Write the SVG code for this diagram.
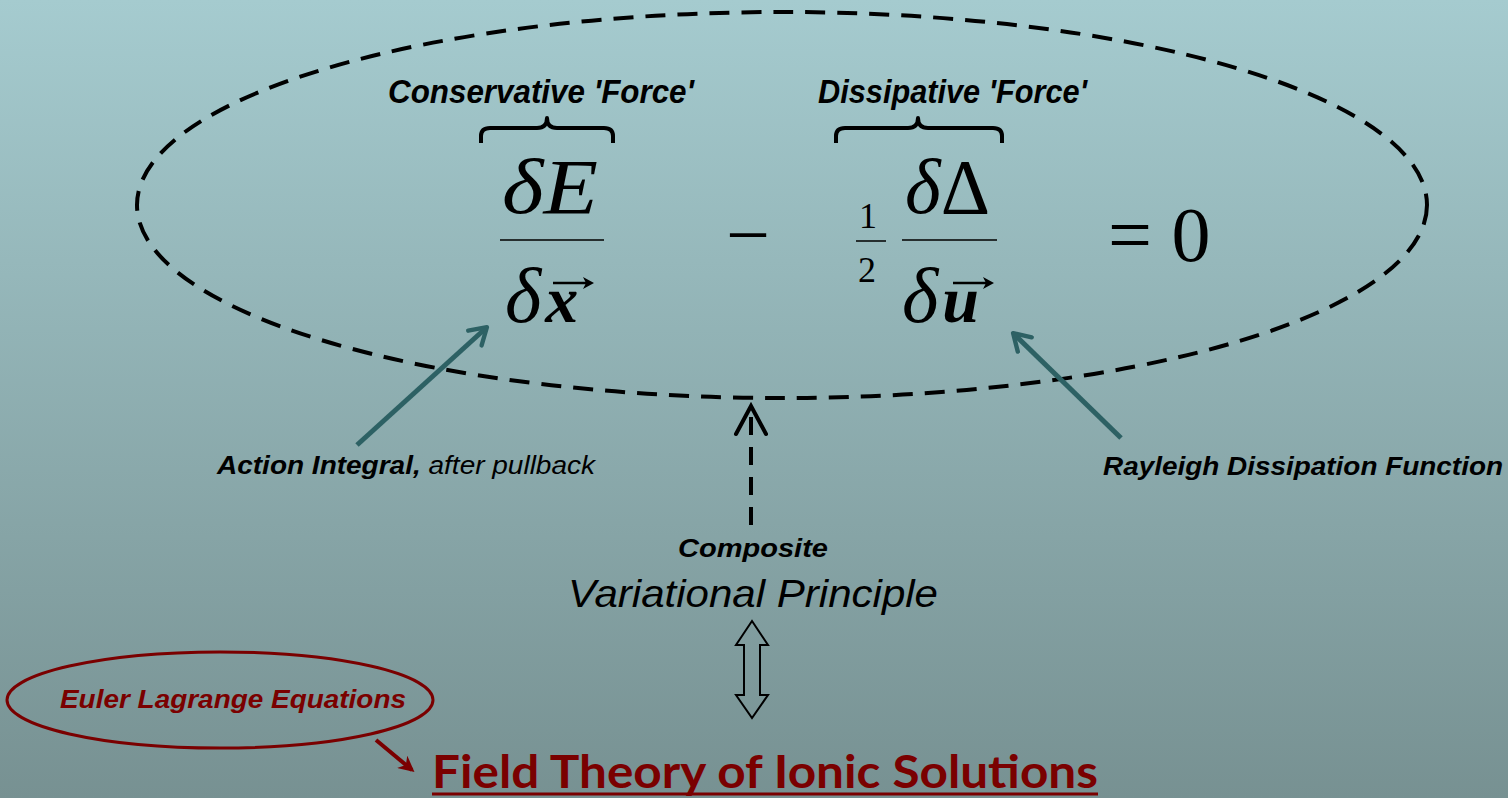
<svg xmlns="http://www.w3.org/2000/svg" width="1508" height="798" viewBox="0 0 1508 798">
<defs>
<linearGradient id="bg" x1="0" y1="0" x2="0" y2="1">
<stop offset="0" stop-color="#a5cbcf"/>
<stop offset="1" stop-color="#779192"/>
</linearGradient>
<marker id="teal" viewBox="0 0 20 20" refX="14" refY="10" markerWidth="5" markerHeight="5" orient="auto" markerUnits="strokeWidth">
<path d="M2,2 L15,10 L2,18" fill="none" stroke="#2d6164" stroke-width="3.5" stroke-linecap="round" stroke-linejoin="round"/>
</marker>
<marker id="red" viewBox="0 0 10 10" refX="8" refY="5" markerWidth="4" markerHeight="4" orient="auto" markerUnits="strokeWidth">
<path d="M0,0 L10,5 L0,10 L3,5 Z" fill="#7a0000"/>
</marker>
<style>
.cond{font-family:"Liberation Sans",Arial,sans-serif;font-weight:bold;font-style:italic;font-size:34px;fill:#000}
.math{font-family:"Liberation Serif","Times New Roman",serif;font-style:italic;font-size:78px;fill:#000}
.mathr{font-family:"Liberation Serif","Times New Roman",serif;font-size:78px;fill:#000}
.bvec{font-weight:bold;font-size:66px}
.lab{font-family:"Liberation Sans",Arial,sans-serif;font-style:italic;font-size:25px;fill:#000}
.brace{fill:none;stroke:#000;stroke-width:4;stroke-linejoin:round}
.bar{stroke:#000;stroke-width:1.5}
.vec{stroke:#000;stroke-width:2.5}
</style>
</defs>
<rect x="0" y="0" width="1508" height="798" fill="url(#bg)"/>

<g id="equation-ellipse">
<ellipse cx="782" cy="205" rx="645" ry="193" fill="none" stroke="#000" stroke-width="4" stroke-dasharray="20 12"/>
</g>

<g id="conservative">
<text class="cond" x="388" y="103" textLength="306" lengthAdjust="spacingAndGlyphs">Conservative 'Force'</text>
<path class="brace" d="M481,143 L481,136 Q481,128 490,128 L537,128 Q547,128 547,118 Q547,128 557,128 L604,128 Q613,128 613,136 L613,143"/>
<text class="math" x="502" y="213" textLength="96" lengthAdjust="spacingAndGlyphs">δE</text>
<line class="bar" x1="500" y1="240" x2="604" y2="240"/>
<text class="math" x="505" y="322">δ<tspan class="bvec" dx="4">x</tspan></text>
<line class="vec" x1="553" y1="283" x2="589" y2="283"/>
<path d="M594,283 L583,277 L586,283 L583,289 Z" fill="#000"/>
</g>

<g id="minus">
<text class="mathr" x="726" y="261">−</text>
</g>

<g id="dissipative">
<text class="cond" x="818" y="103" textLength="269" lengthAdjust="spacingAndGlyphs">Dissipative 'Force'</text>
<path class="brace" d="M836,143 L836,136 Q836,128 845,128 L908,128 Q918,128 918,118 Q918,128 928,128 L993,128 Q1002,128 1002,136 L1002,143"/>
<text class="mathr" x="859" y="228" style="font-size:36px">1</text>
<line class="bar" x1="856" y1="241" x2="886" y2="241"/>
<text class="mathr" x="858" y="282" style="font-size:36px">2</text>
<text class="math" x="905" y="213" textLength="85" lengthAdjust="spacingAndGlyphs">δ<tspan style="font-style:normal">Δ</tspan></text>
<line class="bar" x1="902" y1="240" x2="997" y2="240"/>
<text class="math" x="902" y="322">δ<tspan class="bvec" dx="4">u</tspan></text>
<line class="vec" x1="953" y1="283" x2="989" y2="283"/>
<path d="M994,283 L983,277 L986,283 L983,289 Z" fill="#000"/>
</g>

<g id="equals-zero">
<text class="mathr" x="1108" y="261">= 0</text>
</g>

<g id="action-label">
<text class="lab" x="217" y="474" textLength="378" lengthAdjust="spacingAndGlyphs"><tspan font-weight="bold">Action Integral,</tspan> after pullback</text>
</g>

<g id="rayleigh-label">
<text class="lab" x="1103" y="475" font-weight="bold" textLength="400" lengthAdjust="spacingAndGlyphs">Rayleigh Dissipation Function</text>
</g>

<g id="variational">
<text class="lab" x="678" y="557" font-weight="bold" textLength="150" lengthAdjust="spacingAndGlyphs">Composite</text>
<text class="lab" x="568" y="607" style="font-size:38px" textLength="370" lengthAdjust="spacingAndGlyphs">Variational Principle</text>
</g>

<g id="euler">
<ellipse cx="220" cy="700" rx="213" ry="48" fill="none" stroke="#7a0000" stroke-width="3"/>
<text class="lab" x="60" y="708" font-weight="bold" style="fill:#7a0000" textLength="346" lengthAdjust="spacingAndGlyphs">Euler Lagrange Equations</text>
</g>

<g id="field-theory">
<text x="432" y="788" textLength="666" lengthAdjust="spacingAndGlyphs" style="font-family:Lato,'Liberation Sans',sans-serif;font-weight:bold;font-size:46px;fill:#7a0000">Field Theory of Ionic Solutions</text>
<line x1="432" y1="794" x2="1098" y2="794" stroke="#7a0000" stroke-width="3"/>
</g>

<g id="connectors">
<line x1="357" y1="445" x2="486" y2="328" stroke="#2d6164" stroke-width="5" marker-end="url(#teal)"/>
<line x1="1121" y1="438" x2="1014" y2="334" stroke="#2d6164" stroke-width="5" marker-end="url(#teal)"/>
<line x1="751" y1="525" x2="751" y2="412" stroke="#000" stroke-width="4" stroke-dasharray="18 12"/>
<path d="M736,434 L751,406 L766,434" fill="none" stroke="#000" stroke-width="4" stroke-linecap="round" stroke-linejoin="miter"/>
<path d="M752,621 L768,645 L760,645 L760,695 L768,695 L752,718 L736,695 L744,695 L744,645 L736,645 Z" fill="none" stroke="#000" stroke-width="2"/>
<line x1="376" y1="740" x2="412" y2="770" stroke="#7a0000" stroke-width="4" marker-end="url(#red)"/>
</g>
</svg>
